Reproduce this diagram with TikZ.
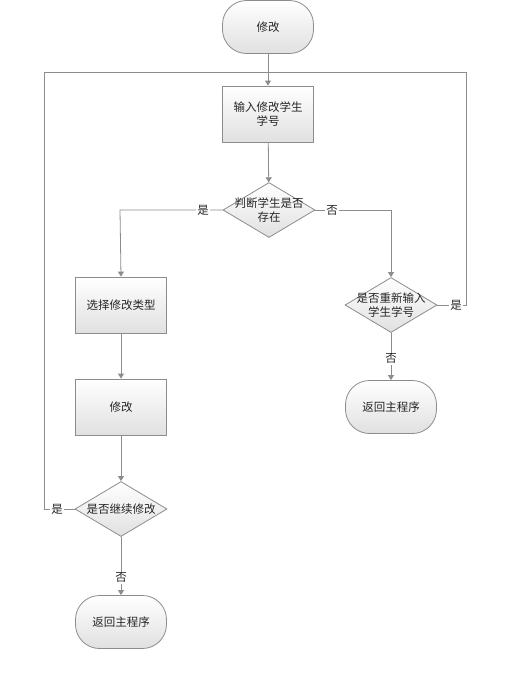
\documentclass[tikz,border=0pt]{standalone}
\usepackage{fontspec}
\newfontfamily\cjk{Noto Sans CJK SC}
\usetikzlibrary{arrows.meta,shapes.geometric}
\tikzset{
  txt/.style={font=\cjk\fontsize{11.5}{14}\selectfont, align=center, text=black!85},
  base/.style={draw=black!45, line width=0.8pt, top color=white, bottom color=black!12,
    txt, inner sep=1pt},
  procbox/.style={base, rectangle, minimum width=91pt, minimum height=56pt},
  termbox/.style={base, rectangle, rounded corners=24pt, minimum width=91pt, minimum height=53pt},
  decbox/.style={base, diamond, aspect=1.7, minimum width=92pt, minimum height=55pt, inner sep=0pt},
  conn/.style={draw=black!45, line width=0.8pt},
  arr/.style={conn, -{Triangle[width=6pt,length=5pt]}},
  lbl/.style={fill=white, txt, inner sep=1pt}
}
\begin{document}
\begin{tikzpicture}[x=1pt,y=-1pt]
\useasboundingbox (0,0) rectangle (510,678);
\node[termbox] (start) at (268,27) {修改};
\node[procbox] (input) at (268,114) {输入修改学生\\学号};
\node[decbox, label={[txt]center:判断学生是否\\存在}] (exist) at (269,210) {};
\node[procbox] (type) at (121,305) {选择修改类型};
\node[procbox] (mod) at (121,407) {修改};
\node[decbox, label={[txt]center:是否继续修改}] (cont) at (121,509) {};
\node[termbox] (ret1) at (121,622) {返回主程序};
\node[decbox, label={[txt]center:是否重新输入\\学生学号}] (again) at (391,305) {};
\node[termbox] (ret2) at (391,407) {返回主程序};
\coordinate (join) at (268,72);
\coordinate (lt) at (44,72);
\coordinate (rt) at (466,72);

\draw[arr] (start) -- (input);
\draw[arr] (input) -- (exist);
\draw[arr] (exist.west) -- (120,210) -- (type.north);
\node[lbl] at (203,210) {是};
\draw[arr] (exist.east) -- (391,210) -- (again.north);
\node[lbl] at (332,210) {否};
\draw[arr] (type) -- (mod);
\draw[arr] (mod) -- (cont);
\draw[arr] (cont) -- node[lbl, pos=0.7] {否} (ret1);
\draw[conn] (cont.west) -- (44,509) -- (lt) -- (join);
\node[lbl] at (57,509) {是};
\draw[arr] (again) -- node[lbl, pos=0.55] {否} (ret2);
\draw[conn] (again.east) -- (466,305) -- (rt) -- (join);
\node[lbl] at (456,305) {是};
\end{tikzpicture}
\end{document}
